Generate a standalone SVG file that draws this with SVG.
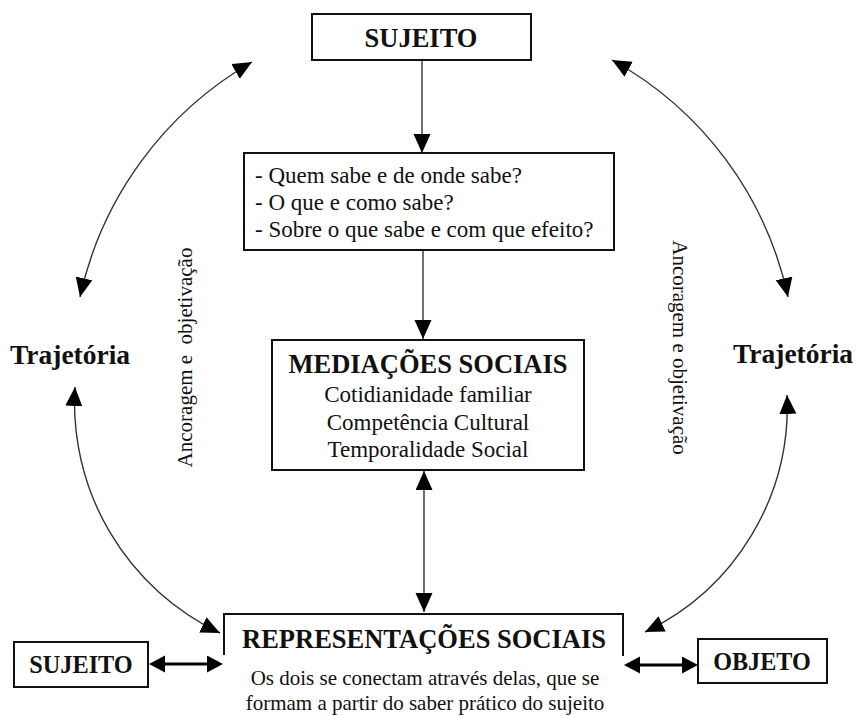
<svg xmlns="http://www.w3.org/2000/svg" width="858" height="716" viewBox="0 0 858 716">
  <style>
    .box { fill: #fff; stroke: #111; stroke-width: 2; }
    .open { fill: none; stroke: #111; stroke-width: 2; }
    .t { font-family: "Liberation Serif", "Times New Roman", serif; fill: #111; }
    .b { font-weight: bold; }
    .line { fill: none; stroke: #333; stroke-width: 1.4; }
    .thick { fill: none; stroke: #000; stroke-width: 3; }
  </style>
  <defs>
    <marker id="ah" markerUnits="userSpaceOnUse" viewBox="0 0 20 18" markerWidth="20" markerHeight="18" refX="19" refY="8.5" orient="auto-start-reverse">
      <path d="M0,0 L19,8.5 L0,17 z" fill="#000"/>
    </marker>
    <marker id="ah2" markerUnits="userSpaceOnUse" viewBox="0 0 17 18" markerWidth="17" markerHeight="18" refX="12" refY="8.5" orient="auto-start-reverse">
      <path d="M0,0 L16,8.5 L0,17 z" fill="#000"/>
    </marker>
  </defs>
  <rect width="858" height="716" fill="#fff"/>

  <g id="connectors">
    <path class="line" d="M422,60 L422,153" marker-end="url(#ah)"/>
    <path class="line" d="M423,250 L423,339" marker-end="url(#ah)"/>
    <path class="line" d="M424,471 L424,612" marker-start="url(#ah)" marker-end="url(#ah)"/>
    <path class="line" d="M80,297 A360,360 0 0 1 252,62" marker-start="url(#ah)" marker-end="url(#ah)"/>
    <path class="line" d="M612,60 A356,356 0 0 1 788,297" marker-start="url(#ah)" marker-end="url(#ah)"/>
    <path class="line" d="M75,387 A255,255 0 0 0 220,633" marker-start="url(#ah)" marker-end="url(#ah)"/>
    <path class="line" d="M787,395 A250,250 0 0 1 645,632" marker-start="url(#ah)" marker-end="url(#ah)"/>
    <path class="thick" d="M153,664 L219,664" marker-start="url(#ah2)" marker-end="url(#ah2)"/>
    <path class="thick" d="M628,665 L694,665" marker-start="url(#ah2)" marker-end="url(#ah2)"/>
  </g>

  <g id="sujeito-top">
    <rect class="box" x="312" y="14" width="219" height="46"/>
    <text class="t b" x="421" y="47" font-size="26.5" text-anchor="middle">SUJEITO</text>
  </g>

  <g id="perguntas">
    <rect class="box" x="244" y="153" width="370" height="97"/>
    <text class="t" x="255" y="183" font-size="23">- Quem sabe e de onde sabe?</text>
    <text class="t" x="255" y="210" font-size="23">- O que e como sabe?</text>
    <text class="t" x="255" y="237" font-size="23">- Sobre o que sabe e com que efeito?</text>
  </g>

  <g id="mediacoes">
    <rect class="box" x="272" y="340" width="312" height="130"/>
    <text class="t b" x="428" y="373" font-size="26.5" text-anchor="middle">MEDIAÇÕES SOCIAIS</text>
    <text class="t" x="428" y="402" font-size="23" text-anchor="middle">Cotidianidade familiar</text>
    <text class="t" x="428" y="430" font-size="23" text-anchor="middle">Competência Cultural</text>
    <text class="t" x="428" y="457" font-size="23" text-anchor="middle">Temporalidade Social</text>
  </g>

  <g id="representacoes">
    <polyline class="open" points="224,655 224,614 623,614 623,656"/>
    <text class="t b" x="424" y="648" font-size="26.5" text-anchor="middle">REPRESENTAÇÕES SOCIAIS</text>
    <text class="t" x="425" y="685" font-size="21" text-anchor="middle">Os dois se conectam através delas, que se</text>
    <text class="t" x="425" y="710" font-size="21" text-anchor="middle">formam a partir do saber prático do sujeito</text>
  </g>

  <g id="sujeito-bottom">
    <rect class="box" x="14" y="642" width="134" height="45"/>
    <text class="t b" x="81" y="673" font-size="24.3" text-anchor="middle">SUJEITO</text>
  </g>

  <g id="objeto">
    <rect class="box" x="698" y="639" width="129" height="44"/>
    <text class="t b" x="762" y="670" font-size="24.2" text-anchor="middle">OBJETO</text>
  </g>

  <g id="trajetoria-esq">
    <text class="t b" x="10" y="364" font-size="27.5">Trajetória</text>
  </g>
  <g id="trajetoria-dir">
    <text class="t b" x="733" y="363" font-size="27.5">Trajetória</text>
  </g>

  <g id="ancoragem-esq">
    <text class="t" transform="translate(192,357.5) rotate(-90)" font-size="21" text-anchor="middle" xml:space="preserve">Ancoragem e  objetivação</text>
  </g>
  <g id="ancoragem-dir">
    <text class="t" transform="translate(673,347.5) rotate(90)" font-size="21" text-anchor="middle">Ancoragem e objetivação</text>
  </g>
</svg>
